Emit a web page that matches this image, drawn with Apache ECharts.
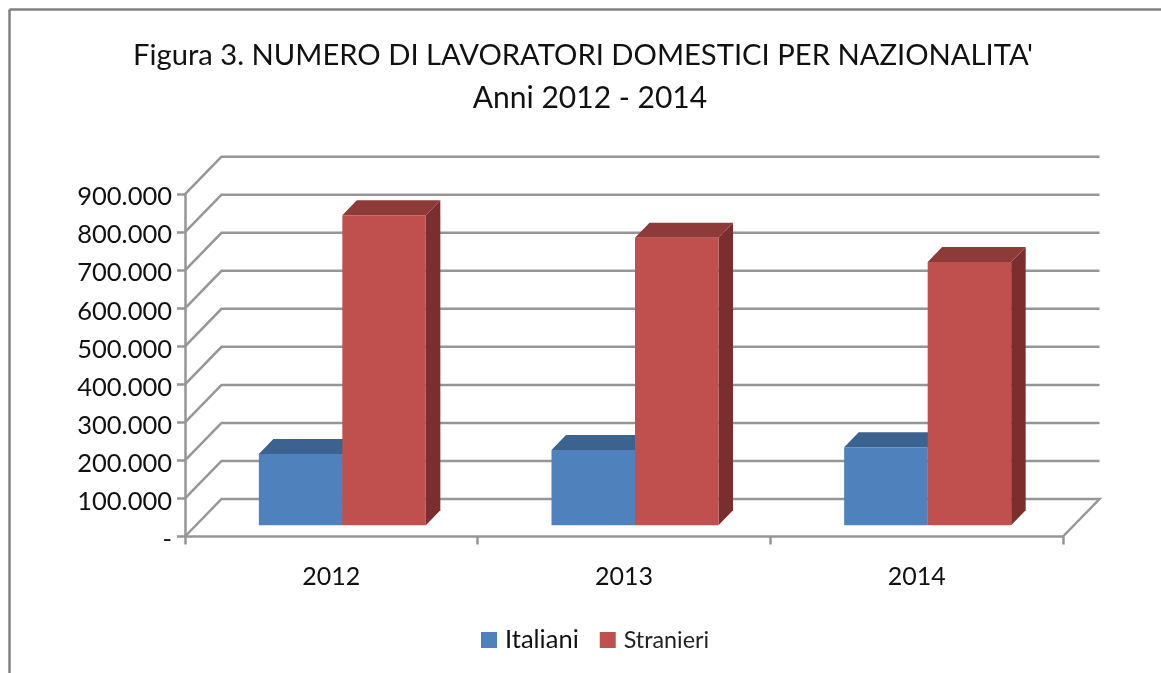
<!DOCTYPE html>
<html>
<head>
<meta charset="utf-8">
<title>Figura 3</title>
<script src="https://cdn.jsdelivr.net/npm/echarts@6/dist/echarts.min.js"></script>
<style>
html,body{margin:0;padding:0;background:#fff;}
#main{width:1161px;height:673px;}
</style>
</head>
<body>
<div id="main"></div>
<script>
var titleLines = ["Figura 3. NUMERO DI LAVORATORI DOMESTICI PER NAZIONALITA'","Anni 2012 - 2014"];
var categories = ['2012','2013','2014'];
var italiani = [187500,198000,205000];
var stranieri = [815000,756000,692000];
var yTicks = [0,100000,200000,300000,400000,500000,600000,700000,800000,900000];

// fake 3d: pixel offsets of back wall and of the bars
var wallDx = 36.5, wallDy = 37.5;
var barDx = 11, barDy = 11.2;
var depthDx = 14.5, depthDy = 15;
var barWidth = 83.5;
var lineColor = '#969696';
var fontName = 'Lato';

function fmtTick(v){
  if(v==0) return '{a|-}';
  return '{a|'+(v/1000)+'.000}';
}

function renderGrid(params,api){
  var y = api.coord([0,api.value(1)])[1];
  var x0 = params.coordSys.x, x1 = x0+params.coordSys.width;
  var pts = [[x0,y],[x0+wallDx,y-wallDy],[x1+wallDx,y-wallDy]];
  if(api.value(1)==0) pts.push([x1,y]);
  return {type:'polyline',shape:{points:pts},style:{stroke:lineColor,lineWidth:2.5,fill:null}};
}

function makeBarRender(pos,front,top,side){
  return function(params,api){
    var base = api.coord([api.value(0),0]);
    var head = api.coord([api.value(0),api.value(1)]);
    var l = base[0]+barDx+pos*barWidth, r = l+barWidth;
    var b = base[1]-barDy, t = head[1]-barDy;
    return {type:'group',children:[
      {type:'polygon',shape:{points:[[r,b],[r+depthDx,b-depthDy],[r+depthDx,t-depthDy],[r,t]]},style:{fill:side}},
      {type:'polygon',shape:{points:[[l,t],[l+depthDx,t-depthDy],[r+depthDx,t-depthDy],[r,t]]},style:{fill:top}},
      {type:'rect',shape:{x:l,y:t,width:barWidth,height:b-t},style:{fill:front}}
    ]};
  };
}

function toData(arr){
  return arr.map(function(v,i){return [i,v];});
}

var myChart = echarts.init(document.getElementById('main'),null,{renderer:'canvas'});

var option = {
  animation:false,
  backgroundColor:'#fff',
  title:[
    {text:titleLines[0],left:578,top:36,textAlign:'center',
      textStyle:{fontFamily:fontName,fontSize:29.2,fontWeight:'normal',color:'#111'}},
    {text:titleLines[1],left:585,top:78,textAlign:'center',
      textStyle:{fontFamily:fontName,fontSize:30,fontWeight:'normal',color:'#111'}}
  ],
  legend:{
    left:476,top:622,itemWidth:16,itemHeight:16,itemGap:21,icon:'rect',
    data:[
      {name:'Italiani',textStyle:{fontFamily:fontName,fontSize:25.5,color:'#111',padding:[0,0,0,3]}},
      {name:'Stranieri',textStyle:{fontFamily:fontName,fontSize:23.3,color:'#222',padding:[0,0,0,3]}}
    ]
  },
  grid:{left:185,top:194.2,width:878,height:342.3},
  xAxis:{
    type:'category',data:categories,
    axisLine:{lineStyle:{color:lineColor,width:2.5}},
    axisTick:{show:true,length:8,lineStyle:{color:lineColor,width:2.5}},
    axisLabel:{fontFamily:fontName,fontSize:25,color:'#111',margin:28}
  },
  yAxis:{
    type:'value',min:0,max:900000,interval:100000,
    axisLine:{show:true,lineStyle:{color:lineColor,width:2.5}},
    axisTick:{show:true,length:8,lineStyle:{color:lineColor,width:2.5}},
    splitLine:{show:false},
    axisLabel:{color:'#111',margin:13,formatter:fmtTick,
      rich:{a:{fontFamily:fontName,fontSize:25.5,color:'#111',padding:[6,0,0,0]}}}
  },
  graphic:[
    {type:'line',shape:{x1:9.5,y1:9.5,x2:1161,y2:9.5},style:{stroke:'#808080',lineWidth:2.5}},
    {type:'line',shape:{x1:9.5,y1:9.5,x2:9.5,y2:673},style:{stroke:'#808080',lineWidth:2.5}}
  ],
  series:[
    {name:'griglia',type:'custom',renderItem:renderGrid,data:yTicks.map(function(v){return [0,v];}),silent:true,z:1},
    {name:'Italiani',type:'custom',renderItem:makeBarRender(-1,'#4f81bd','#3c6290','#335478'),data:toData(italiani),itemStyle:{color:'#4f81bd'},z:2},
    {name:'Stranieri',type:'custom',renderItem:makeBarRender(0,'#c0504d','#8e3a38','#7a2f2e'),data:toData(stranieri),itemStyle:{color:'#c0504d'},z:3}
  ]
};
myChart.setOption(option);
</script>
</body>
</html>
